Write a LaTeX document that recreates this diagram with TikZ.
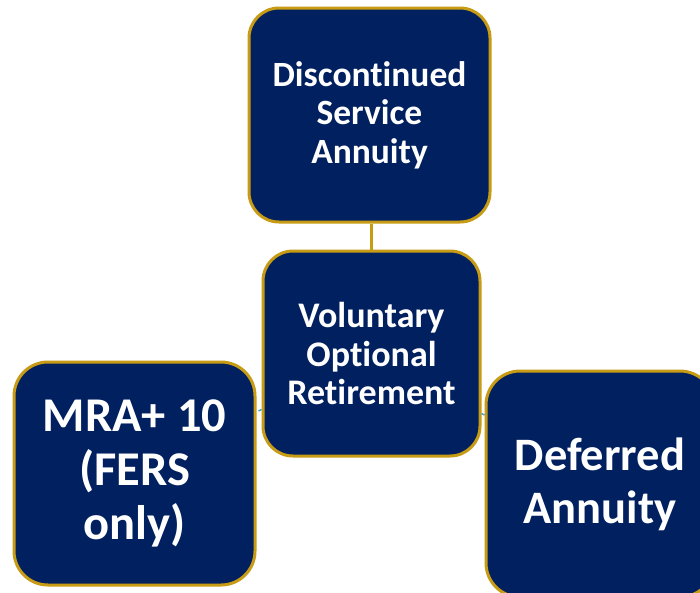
\documentclass[tikz,border=0pt]{standalone}
\usepackage{fontspec}
\setmainfont[Ligatures=NoCommon]{Carlito}
\usetikzlibrary{calc}
\definecolor{navy}{RGB}{0,32,96}
\definecolor{gold}{RGB}{200,155,20}
\definecolor{tickc}{RGB}{60,160,210}
\begin{document}
\begin{tikzpicture}[x=1pt,y=-1pt,
  box/.style={draw=gold, line width=3pt, fill=navy, rounded corners=30pt,
    text=white, align=center, inner sep=0pt},
  toptxt/.style={font=\fontsize{35.5}{38.5}\selectfont\bfseries},
  midtxt/.style={font=\fontsize{36}{38.5}\selectfont\bfseries},
  lefttxt/.style={font=\fontsize{48.5}{54}\selectfont\bfseries},
  righttxt/.style={font=\fontsize{46.5}{53}\selectfont\bfseries},
  link/.style={draw=gold, line width=2.5pt},
  tick/.style={draw=tickc, line width=1.5pt}]
\clip (0,0) rectangle (700,592);
\fill[white] (0,0) rectangle (700,592);
\node[box, toptxt, minimum width=241pt, minimum height=214pt] (top) at (369.5,115)
  {Discontinued\\Service\\Annuity};
\node[box, midtxt, minimum width=217pt, minimum height=205pt] (mid) at (371.5,353.5)
  {Voluntary\\Optional\\Retirement};
\node[box, lefttxt, minimum width=241pt, minimum height=223pt, rounded corners=34pt] (left) at (134.5,473.5)
  {MRA+ 10\\(FERS\\only)};
\node[box, righttxt, minimum width=228pt, minimum height=226pt, rounded corners=34pt] (right) at (600,484)
  {Deferred\\Annuity};
\draw[link] (mid.north |- top.south) -- (mid.north);
\draw[tick] ([yshift=-56pt]mid.west) -- ++(-3,1.5);
\draw[tick] ([yshift=-60pt]mid.east) -- ++(3,1.5);
\end{tikzpicture}
\end{document}
